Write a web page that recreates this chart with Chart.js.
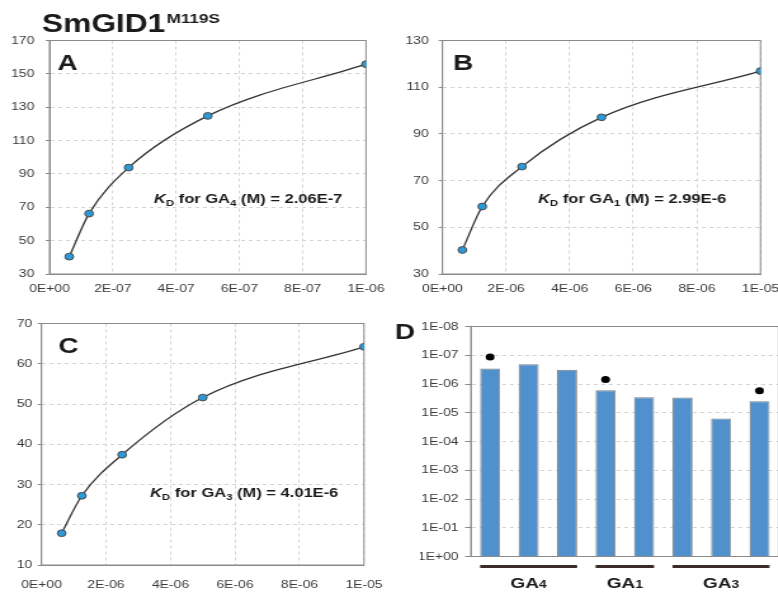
<!DOCTYPE html>
<html>
<head>
<meta charset="utf-8">
<script src="https://cdn.jsdelivr.net/npm/chart.js@4"></script>
<style>
  html, body { margin: 0; padding: 0; background: #fff; overflow: hidden; }
  #page { position: relative; width: 778px; height: 595px; overflow: hidden; }
  #page canvas { position: absolute; left: 0; top: 0; }
</style>
</head>
<body>
<div id="page">
  <canvas id="chartA" width="613" height="595"></canvas>
  <canvas id="chartB" width="613" height="595"></canvas>
  <canvas id="chartC" width="613" height="595"></canvas>
  <canvas id="chartD" width="640" height="595"></canvas>
</div>
<script>
// --- data ---
const aConc = [6.25e-8, 1.25e-7, 2.5e-7, 5e-7, 1e-6];
const aSignal = [40.4, 66.2, 93.8, 124.8, 155.8];
const bcConc = [6.25e-7, 1.25e-6, 2.5e-6, 5e-6, 1e-5];
const bSignal = [40.3, 58.9, 76.0, 97.1, 116.9];
const cSignal = [17.9, 27.2, 37.4, 51.6, 64.2];

const aXTicks = ['0E+00', '2E-07', '4E-07', '6E-07', '8E-07', '1E-06'];
const bcXTicks = ['0E+00', '2E-06', '4E-06', '6E-06', '8E-06', '1E-05'];
const aYTicks = [30, 50, 70, 90, 110, 130, 150, 170];
const bYTicks = [30, 50, 70, 90, 110, 130];
const cYTicks = [10, 20, 30, 40, 50, 60, 70];

const kdSubs = ['4', '1', '3'];
const kdValues = ['2.06E-7', '2.99E-6', '4.01E-6'];

const dCategories = ['GA4 a', 'GA4 b', 'GA4 c', 'GA1 a', 'GA1 b', 'GA3 a', 'GA3 b', 'GA3 c'];
const dKd = [2.9e-7, 2.06e-7, 3.2e-7, 1.66e-6, 2.9e-6, 2.95e-6, 1.6e-5, 4.01e-6];
const dMarks = [1.15e-7, null, null, 7.0e-7, null, null, null, 1.7e-6];
const dYTicks = ['1E+00', '1E-01', '1E-02', '1E-03', '1E-04', '1E-05', '1E-06', '1E-07', '1E-08'];
const groupSubs = ['4', '1', '3'];
const groupFirst = [0, 3, 5];
const groupLast = [2, 4, 7];

// --- look ---
const SX = 778 / 613;   // the figure is stretched sideways
const FAM = '"Liberation Sans", Arial, sans-serif';
const AXIS = '#8a8a8a';
const GRID = '#d4d4d4';
const INK = '#1a1a1a';
const DOT = '#2a9bd8';

Chart.defaults.font.family = FAM;
Chart.defaults.font.size = 11;
Chart.defaults.color = '#3a3a3a';

document.querySelectorAll('#page canvas').forEach(c => {
    c.style.width = (c.width * SX) + 'px';
    c.style.height = c.height + 'px';
});

// chart area given in page pixels -> layout padding in canvas pixels
function padFor(area, yw, xh, cw) {
    return {
        left: area.l / SX - yw,
        right: cw - area.r / SX,
        top: area.t,
        bottom: 595 - area.b - xh
    };
}

function drawRich(ctx, x, y, parts, center) {
    let w = 0;
    parts.forEach(p => { ctx.font = p.font; w += ctx.measureText(p.text).width; });
    let cx = center ? x - w / 2 : x;
    parts.forEach(p => {
        ctx.font = p.font;
        ctx.fillText(p.text, cx, y + (p.dy || 0));
        cx += ctx.measureText(p.text).width;
    });
}

function kdLabel(ctx, x, y, k) {
    drawRich(ctx, x, y, [
        { text: 'K', font: `italic bold 13px ${FAM}` },
        { text: 'D', font: `bold 9px ${FAM}`, dy: 3 },
        { text: ' for GA', font: `bold 13px ${FAM}` },
        { text: kdSubs[k], font: `bold 9px ${FAM}`, dy: 3 },
        { text: ` (M) = ${kdValues[k]}`, font: `bold 13px ${FAM}` }
    ]);
}

function decor(draw) {
    return {
        id: 'decor',
        beforeDatasetsDraw(chart) {
            const ctx = chart.ctx, a = chart.chartArea;
            ctx.save();
            ctx.strokeStyle = AXIS;
            ctx.lineWidth = 1;
            ctx.strokeRect(a.left, a.top, a.right - a.left, a.bottom - a.top);
            ctx.restore();
        },
        afterDraw(chart) {
            const ctx = chart.ctx;
            ctx.save();
            ctx.fillStyle = INK;
            ctx.textAlign = 'left';
            ctx.textBaseline = 'alphabetic';
            draw(ctx, chart);
            ctx.restore();
        }
    };
}

function bindingChart(id, conc, signal, xTicks, yTicks, area, yPad, xPad, draw) {
    const xVals = xTicks.map(Number);
    return new Chart(document.getElementById(id), {
        type: 'scatter',
        data: {
            datasets: [{
                data: conc.map((x, i) => ({ x: x, y: signal[i] })),
                showLine: true,
                cubicInterpolationMode: 'monotone',
                borderColor: '#333',
                borderWidth: 1.3,
                pointRadius: 3.4,
                pointBackgroundColor: DOT,
                pointBorderColor: '#4a4a4a',
                pointBorderWidth: 1
            }]
        },
        options: {
            responsive: false,
            animation: false,
            layout: { padding: padFor(area, area.yw, 25, 613) },
            plugins: { legend: { display: false }, tooltip: { enabled: false } },
            scales: {
                x: {
                    type: 'linear',
                    min: xVals[0],
                    max: xVals[xVals.length - 1],
                    afterBuildTicks: s => { s.ticks = xVals.map(v => ({ value: v })); },
                    afterFit: s => { s.height = 25; s.paddingLeft = 0; s.paddingRight = 0; },
                    ticks: { callback: (v, i) => xTicks[i], padding: xPad, maxRotation: 0, autoSkip: false },
                    grid: { color: GRID, drawTicks: false },
                    border: { color: AXIS, dash: [3, 3] }
                },
                y: {
                    min: yTicks[0],
                    max: yTicks[yTicks.length - 1],
                    afterBuildTicks: s => { s.ticks = yTicks.map(v => ({ value: v })); },
                    afterFit: s => { s.width = area.yw; s.paddingTop = 0; s.paddingBottom = 0; },
                    ticks: { padding: yPad, autoSkip: false },
                    grid: { color: GRID, tickLength: 3, tickColor: AXIS },
                    border: { color: AXIS, dash: [3, 3] }
                }
            }
        },
        plugins: [decor(draw)]
    });
}

bindingChart('chartA', aConc, aSignal, aXTicks, aYTicks,
    { l: 49.5, r: 366, t: 40.5, b: 274, yw: 39 }, 9, 8,
    (ctx) => {
        ctx.font = `bold 25px ${FAM}`;
        ctx.fillText('SmGID1', 33, 31.7);
        const w = ctx.measureText('SmGID1').width;
        ctx.font = `bold 13.5px ${FAM}`;
        ctx.fillText('M119S', 33 + w + 1, 22.5);
        ctx.font = `bold 22px ${FAM}`;
        ctx.fillText('A', 45.2, 69.5);
        kdLabel(ctx, 121.3, 203, 0);
    });

bindingChart('chartB', bcConc, bSignal, bcXTicks, bYTicks,
    { l: 442.5, r: 760.5, t: 40.5, b: 274, yw: 30 }, 7.8, 8,
    (ctx) => {
        ctx.font = `bold 22px ${FAM}`;
        ctx.fillText('B', 356.9, 69.5);
        kdLabel(ctx, 423.9, 203, 1);
    });

bindingChart('chartC', bcConc, cSignal, bcXTicks, cYTicks,
    { l: 41.5, r: 364, t: 323.5, b: 565, yw: 32.7 }, 4.3, 13,
    (ctx) => {
        ctx.font = `bold 22px ${FAM}`;
        ctx.fillText('C', 46, 352.5);
        kdLabel(ctx, 118.2, 497, 2);
    });

// panel D: K_D values on a reversed log axis
const dArea = { l: 471, r: 779, t: 326.5, b: 556.5 };
const dYVals = dYTicks.map(Number);
new Chart(document.getElementById('chartD'), {
    type: 'bar',
    data: {
        labels: dCategories,
        datasets: [{
            type: 'line',
            data: dMarks,
            showLine: false,
            pointRadius: 3.5,
            pointBackgroundColor: '#000',
            pointBorderWidth: 0,
            order: 0
        }, {
            data: dKd,
            base: 1,
            backgroundColor: '#5090cc',
            borderColor: '#7d7d7d',
            borderWidth: 1,
            barPercentage: 0.52,
            categoryPercentage: 1,
            order: 1
        }]
    },
    options: {
        responsive: false,
        animation: false,
        layout: { padding: padFor(dArea, 40, 0, 640) },
        plugins: { legend: { display: false }, tooltip: { enabled: false } },
        scales: {
            x: {
                ticks: { display: false },
                grid: { display: false },
                border: { color: AXIS },
                afterFit: s => { s.height = 0; s.paddingLeft = 0; s.paddingRight = 0; }
            },
            y: {
                type: 'logarithmic',
                reverse: true,
                min: 1e-8,
                max: 1,
                afterBuildTicks: s => { s.ticks = dYVals.map(v => ({ value: v })); },
                afterFit: s => { s.width = 40; s.paddingTop = 0; s.paddingBottom = 0; },
                ticks: { callback: (v, i) => dYTicks[i], padding: 5.2, autoSkip: false },
                grid: { color: GRID, tickLength: 4.5, tickColor: AXIS },
                border: { color: AXIS, dash: [3, 3] }
            }
        }
    },
    plugins: [decor((ctx, chart) => {
        ctx.font = `bold 22px ${FAM}`;
        ctx.fillText('D', 311.2, 339);
        const xs = chart.scales.x;
        const half = chart.getDatasetMeta(1).data[0].width / 2;
        groupSubs.forEach((sub, k) => {
            const x0 = xs.getPixelForValue(groupFirst[k]) - half;
            const x1 = xs.getPixelForValue(groupLast[k]) + half;
            ctx.fillStyle = '#3a2a2a';
            ctx.fillRect(x0, 565, x1 - x0, 3);
            ctx.fillStyle = INK;
            drawRich(ctx, (x0 + x1) / 2, 587.5, [
                { text: 'GA', font: `bold 15px ${FAM}` },
                { text: sub, font: `bold 11px ${FAM}` }
            ], true);
        });
    })]
});
</script>
</body>
</html>
